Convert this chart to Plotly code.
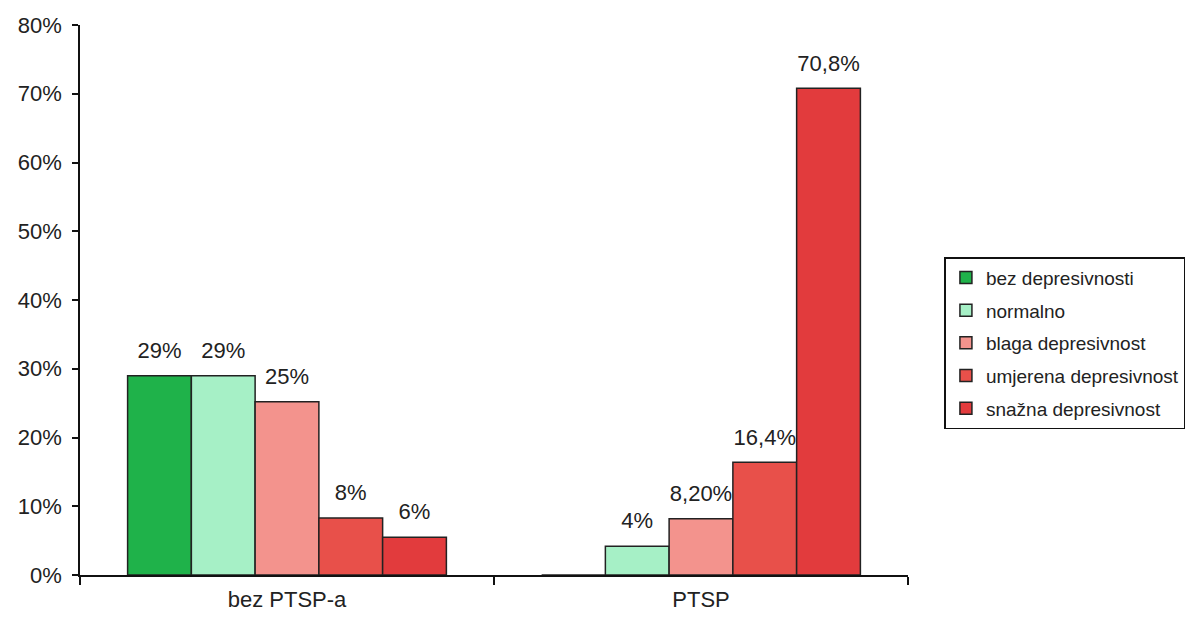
import plotly.graph_objects as go

# grupe ispitanika (kategorije na x osi)
groups = ['bez PTSP-a', 'PTSP']

# stupnjevi depresivnosti (serije)
series_names = ['bez depresivnosti', 'normalno', 'blaga depresivnost',
                'umjerena depresivnost', 'snažna depresivnost']

# vrijednosti u postocima, po seriji: [bez PTSP-a, PTSP]
bez_depresivnosti = [29, 0]
normalno = [29, 4.2]
blaga = [25.2, 8.2]
umjerena = [8.3, 16.4]
snazna = [5.5, 70.8]

# oznake iznad stupaca
labels_bez_depresivnosti = ['29%', '']
labels_normalno = ['29%', '4%']
labels_blaga = ['25%', '8,20%']
labels_umjerena = ['8%', '16,4%']
labels_snazna = ['6%', '70,8%']

y_ticks = [0, 10, 20, 30, 40, 50, 60, 70, 80]

values = [bez_depresivnosti, normalno, blaga, umjerena, snazna]
labels = [labels_bez_depresivnosti, labels_normalno, labels_blaga,
          labels_umjerena, labels_snazna]
colors = ['#1fb24a', '#a6f0c6', '#f3938d', '#e8504a', '#e23b3d']

fig = go.Figure()

for i, (name, vals, col) in enumerate(zip(series_names, values, colors)):
    fig.add_trace(go.Bar(
        x=groups,
        y=vals,
        name=name,
        legendgroup=name,
        offsetgroup=str(i),
        marker=dict(color=col, line=dict(color='#222222', width=1.5)),
    ))

# oznake postotaka kao zasebni tekstualni slojevi (malo iznad stupca)
for i, (name, vals, txt) in enumerate(zip(series_names, values, labels)):
    fig.add_trace(go.Scatter(
        x=groups,
        y=vals,
        mode='markers+text',
        text=txt,
        textposition='top center',
        textfont=dict(size=22, color='#222222'),
        marker=dict(size=18, opacity=0),
        offsetgroup=str(i),
        showlegend=False,
        hoverinfo='skip',
        cliponaxis=False,
    ))

# stranica ima 8px margine, pa je slika malo manja od prozora
fig.update_layout(
    width=1195,
    height=612,
    margin=dict(l=72, r=295, t=17, b=45, autoexpand=False),
    paper_bgcolor='white',
    plot_bgcolor='white',
    barmode='group',
    bargap=0.23,
    bargroupgap=0,
    scattermode='group',
    scattergap=0.23,
    font=dict(family='Arial, Liberation Sans, sans-serif', size=20, color='#222222'),
    legend=dict(
        x=1.044, y=0.578,
        xanchor='left', yanchor='top',
        bordercolor='#111111', borderwidth=1.5,
        font=dict(size=19, color='#222222'),
        bgcolor='white',
        tracegroupgap=5,
    ),
)

fig.update_xaxes(
    showline=True, linecolor='#111111', linewidth=1.5,
    ticks='outside', ticklen=8, tickcolor='#111111', tickwidth=1.5,
    tickson='boundaries',
    showgrid=False,
    tickfont=dict(size=22),
    ticklabelstandoff=4,
)

fig.update_yaxes(
    range=[0, 80],
    tickvals=y_ticks,
    ticktext=[f'{v}%' for v in y_ticks],
    showline=True, linecolor='#111111', linewidth=1.5,
    ticks='outside', ticklen=6, tickcolor='#111111', tickwidth=1.5,
    showgrid=False, zeroline=False,
    tickfont=dict(size=22),
    ticklabelstandoff=6,
)

fig.write_html("out.html")
